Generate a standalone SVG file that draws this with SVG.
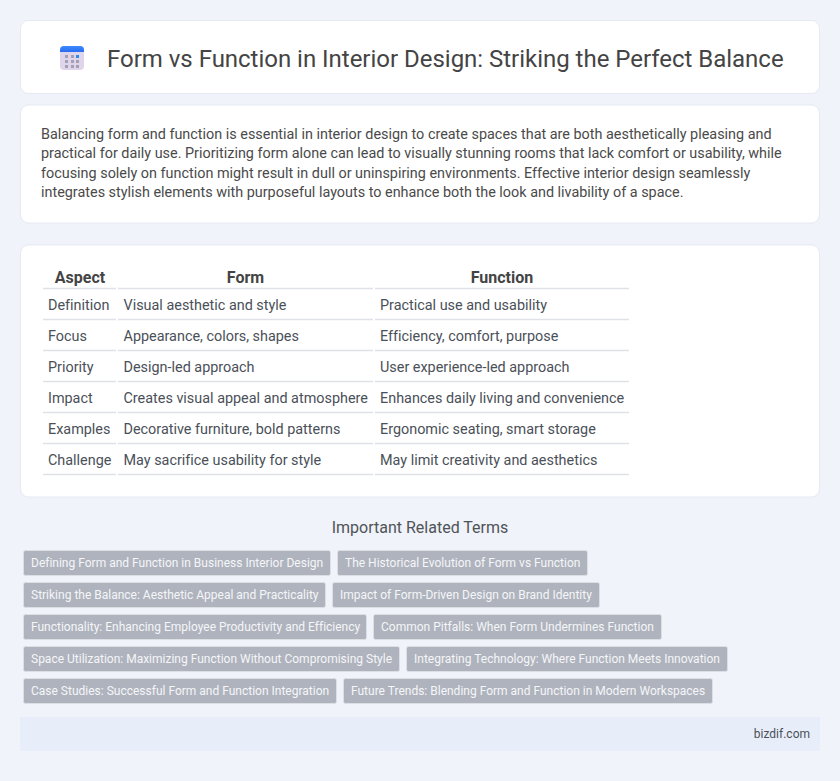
<svg xmlns="http://www.w3.org/2000/svg" width="840" height="781" viewBox="0 0 840 781">
<defs><linearGradient id="cal" x1="0" y1="0" x2="0" y2="1"><stop offset="0" stop-color="#3d8bff"/><stop offset="1" stop-color="#2a6cf0"/></linearGradient></defs>
<style>
text{font-family:Roboto,"Liberation Sans",sans-serif;text-rendering:optimizeSpeed}
.card{fill:#fff;stroke:#e5e9f2;stroke-width:1}
.p{font-size:14.4px;fill:#4a4a4a}
.th{font-size:16px;font-weight:700;fill:#444;text-anchor:middle}
.td{font-size:14.4px;fill:#4a5058}
.rule{stroke:#dfe1e6;stroke-width:1.5}
.tag{fill:#afb3bd;stroke:#dcdfe4;stroke-width:1}
.tt{font-size:12px;font-weight:400;fill:#f5f6f9}
</style>
<rect width="840" height="781" fill="#f0f3f9"/>
<g id="header">
<rect class="card" x="20.5" y="20.5" width="799" height="73" rx="8"/>
<rect x="60" y="46" width="24" height="24" rx="4" fill="#e0d6ec"/>
<path d="M60 52v-2a4 4 0 0 1 4-4h16a4 4 0 0 1 4 4v2z" fill="url(#cal)"/>
<g fill="#a59fb3"><rect x="65" y="55" width="3" height="3"/><rect x="71" y="55" width="3" height="3"/><rect x="65" y="60" width="3" height="3"/><rect x="71" y="60" width="3" height="3"/><rect x="76" y="60" width="3" height="3"/><rect x="65" y="65" width="3" height="3"/><rect x="71" y="65" width="3" height="3"/><rect x="76" y="65" width="3" height="3"/></g>
<rect x="76" y="55" width="3" height="3" fill="#2a8cf0"/>
<text x="107" y="67" font-size="24" fill="#444" letter-spacing="-0.02">Form vs Function in Interior Design: Striking the Perfect Balance</text>
</g>
<g id="intro">
<rect class="card" x="20.5" y="105" width="799" height="118" rx="8"/>
<text class="p" x="41" y="139">Balancing form and function is essential in interior design to create spaces that are both aesthetically pleasing and</text>
<text class="p" x="41" y="158">practical for daily use. Prioritizing form alone can lead to visually stunning rooms that lack comfort or usability, while</text>
<text class="p" x="41" y="178">focusing solely on function might result in dull or uninspiring environments. Effective interior design seamlessly</text>
<text class="p" x="41" y="197">integrates stylish elements with purposeful layouts to enhance both the look and livability of a space.</text>
</g>
<g id="table">
<rect class="card" x="20.5" y="245" width="799" height="252" rx="8"/>
<text class="th" x="80" y="283">Aspect</text><text class="th" x="245.500" y="283">Form</text><text class="th" x="502" y="283">Function</text>
<g class="rule">
<path d="M43 288.500H116M118 288.500H373M375 288.500H629M43 319.500H116M118 319.500H373M375 319.500H629M43 350.500H116M118 350.500H373M375 350.500H629M43 381.500H116M118 381.500H373M375 381.500H629M43 412.500H116M118 412.500H373M375 412.500H629M43 443.500H116M118 443.500H373M375 443.500H629M43 474.500H116M118 474.500H373M375 474.500H629"/>
</g>
<text class="td" x="48" y="310">Definition</text><text class="td" x="123.500" y="310">Visual aesthetic and style</text><text class="td" x="380" y="310">Practical use and usability</text>
<text class="td" x="48" y="341">Focus</text><text class="td" x="123.500" y="341">Appearance, colors, shapes</text><text class="td" x="380" y="341">Efficiency, comfort, purpose</text>
<text class="td" x="48" y="372">Priority</text><text class="td" x="123.500" y="372">Design-led approach</text><text class="td" x="380" y="372">User experience-led approach</text>
<text class="td" x="48" y="403">Impact</text><text class="td" x="123.500" y="403">Creates visual appeal and atmosphere</text><text class="td" x="380" y="403">Enhances daily living and convenience</text>
<text class="td" x="48" y="434">Examples</text><text class="td" x="123.500" y="434">Decorative furniture, bold patterns</text><text class="td" x="380" y="434">Ergonomic seating, smart storage</text>
<text class="td" x="48" y="465">Challenge</text><text class="td" x="123.500" y="465">May sacrifice usability for style</text><text class="td" x="380" y="465">May limit creativity and aesthetics</text>
</g>
<g id="related">
<text x="420" y="533" font-size="16" fill="#4f5358" text-anchor="middle">Important Related Terms</text>
<g id="t1"><rect class="tag" x="23.500" y="550.500" width="307" height="25" rx="2"/><text class="tt" x="31" y="567">Defining Form and Function in Business Interior Design</text></g>
<g id="t2"><rect class="tag" x="337.500" y="550.500" width="250" height="25" rx="2"/><text class="tt" x="345" y="567">The Historical Evolution of Form vs Function</text></g>
<g id="t3"><rect class="tag" x="23.500" y="582.500" width="302" height="25" rx="2"/><text class="tt" x="31" y="599">Striking the Balance: Aesthetic Appeal and Practicality</text></g>
<g id="t4"><rect class="tag" x="332.500" y="582.500" width="267" height="25" rx="2"/><text class="tt" x="340" y="599">Impact of Form-Driven Design on Brand Identity</text></g>
<g id="t5"><rect class="tag" x="23.500" y="614.500" width="343" height="25" rx="2"/><text class="tt" x="31" y="631">Functionality: Enhancing Employee Productivity and Efficiency</text></g>
<g id="t6"><rect class="tag" x="373.500" y="614.500" width="288" height="25" rx="2"/><text class="tt" x="381" y="631">Common Pitfalls: When Form Undermines Function</text></g>
<g id="t7"><rect class="tag" x="23.500" y="646.500" width="376" height="25" rx="2"/><text class="tt" x="31" y="663">Space Utilization: Maximizing Function Without Compromising Style</text></g>
<g id="t8"><rect class="tag" x="406.500" y="646.500" width="321" height="25" rx="2"/><text class="tt" x="414" y="663">Integrating Technology: Where Function Meets Innovation</text></g>
<g id="t9"><rect class="tag" x="23.500" y="678.500" width="313" height="25" rx="2"/><text class="tt" x="31" y="695">Case Studies: Successful Form and Function Integration</text></g>
<g id="t10"><rect class="tag" x="343.500" y="678.500" width="369" height="25" rx="2"/><text class="tt" x="351" y="695">Future Trends: Blending Form and Function in Modern Workspaces</text></g>
</g>
<g id="footer">
<rect x="20" y="717" width="800" height="34" fill="#e8eef9"/>
<text x="810" y="738" font-size="12" fill="#4a5058" text-anchor="end">bizdif.com</text>
</g>
</svg>
